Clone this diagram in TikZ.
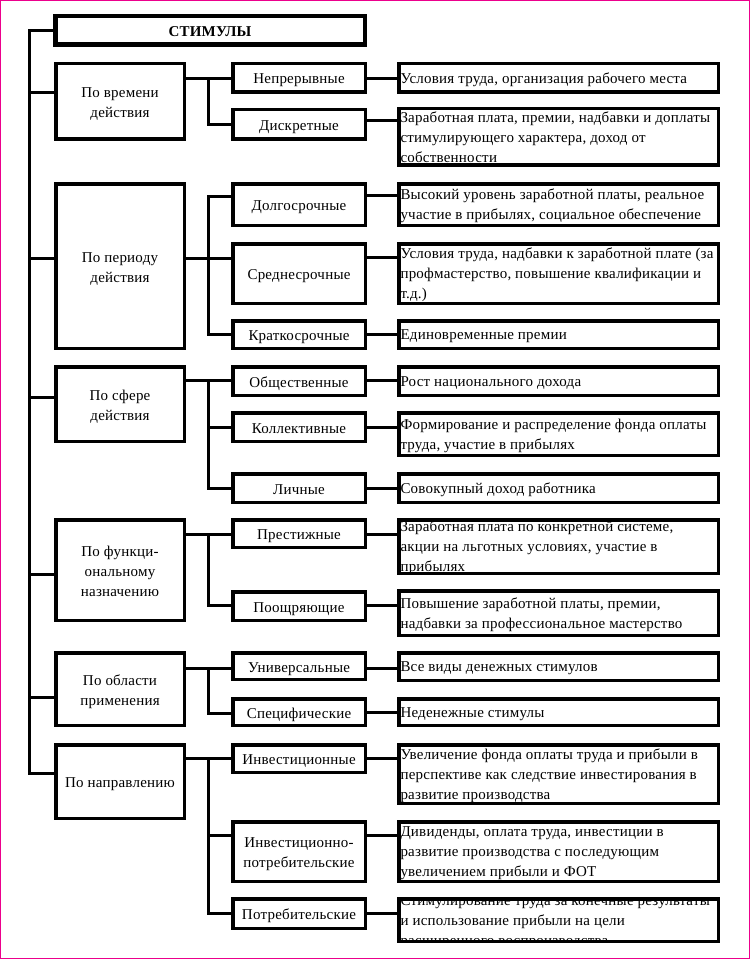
\documentclass[tikz,border=0pt]{standalone}
\usepackage{fontspec}
\setmainfont{Liberation Serif}[LetterSpace=1.5]

\newcommand\desctext[1]{\raisebox{-3pt}[\height][\depth]{\parbox[c][0pt][c]{316pt}{\begin{tabular}{@{}l@{}}#1\end{tabular}}}}
\newcommand\boxtext[1]{\raisebox{-2pt}[\height][\depth]{\begin{tabular}{@{}c@{}}#1\end{tabular}}}

\begin{document}
\begin{tikzpicture}[x=1pt, y=-1pt, font=\fontsize{15}{20}\selectfont,
box/.style={draw, line width=3.5pt, inner sep=0pt},
catbox/.style={box, minimum width=128.5pt},
subbox/.style={box, minimum width=132.5pt},
descbox/.style={box, minimum width=319.5pt},
link/.style={line width=3pt}]
    \useasboundingbox (0,0) rectangle (751,960);
    \draw[magenta, line width=1pt] (0.5,0.5) rectangle (749.5,958.5);

    \node[box, line width=4.5pt, minimum width=309.5pt, minimum height=28.5pt, font=\fontsize{15}{20}\selectfont\bfseries] (top) at (210,30.5) {\boxtext{СТИМУЛЫ}};

    % categories
    \node[catbox, minimum height=75.5pt]  (c1) at (120,101.5) {\boxtext{По времени\\действия}};
    \node[catbox, minimum height=164.5pt] (c2) at (120,266)   {\boxtext{По периоду\\действия}};
    \node[catbox, minimum height=74.5pt]  (c3) at (120,404)   {\boxtext{По сфере\\действия}};
    \node[catbox, minimum height=100.5pt] (c4) at (120,570)   {\boxtext{По функци-\\ональному\\назначению}};
    \node[catbox, minimum height=72.5pt]  (c5) at (120,689)   {\boxtext{По области\\применения}};
    \node[catbox, minimum height=73.5pt]  (c6) at (120,781.5) {\boxtext{По направлению}};

    % kinds
    \node[subbox, minimum height=28.5pt] (s11) at (299,78)    {\boxtext{Непрерывные}};
    \node[subbox, minimum height=29.5pt] (s12) at (299,124.5) {\boxtext{Дискретные}};
    \node[subbox, minimum height=41.5pt] (s21) at (299,204.5) {\boxtext{Долгосрочные}};
    \node[subbox, minimum height=59.5pt] (s22) at (299,273.5) {\boxtext{Среднесрочные}};
    \node[subbox, minimum height=27.5pt] (s23) at (299,334.5) {\boxtext{Краткосрочные}};
    \node[subbox, minimum height=28.5pt] (s31) at (299,381)   {\boxtext{Общественные}};
    \node[subbox, minimum height=28.5pt] (s32) at (299,427)   {\boxtext{Коллективные}};
    \node[subbox, minimum height=28.5pt] (s33) at (299,488)   {\boxtext{Личные}};
    \node[subbox, minimum height=27.5pt] (s41) at (299,533.5) {\boxtext{Престижные}};
    \node[subbox, minimum height=28.5pt] (s42) at (299,606)   {\boxtext{Поощряющие}};
    \node[subbox, minimum height=26.5pt] (s51) at (299,666)   {\boxtext{Универсальные}};
    \node[subbox, minimum height=26.5pt] (s52) at (299,712)   {\boxtext{Специфические}};
    \node[subbox, minimum height=27.5pt] (s61) at (299,758.5) {\boxtext{Инвестиционные}};
    \node[subbox, minimum height=59.5pt] (s62) at (299,851.5) {\boxtext{Инвестиционно-\\потребительские}};
    \node[subbox, minimum height=29.5pt] (s63) at (299,913.5) {\boxtext{Потребительские}};

    % contents
    \node[descbox, minimum height=28.5pt] (d11) at (558.5,78) {\desctext{Условия труда, организация рабочего места}};
    \node[descbox, minimum height=56.5pt] (d12) at (558.5,137) {\desctext{Заработная плата, премии, надбавки и доплаты\\стимулирующего характера, доход от\\собственности}};
    \node[descbox, minimum height=41.5pt] (d21) at (558.5,204.5) {\desctext{Высокий уровень заработной платы, реальное\\участие в прибылях, социальное обеспечение}};
    \node[descbox, minimum height=59.5pt] (d22) at (558.5,273.5) {\desctext{Условия труда, надбавки к заработной плате (за\\профмастерство, повышение квалификации и\\т.д.)}};
    \node[descbox, minimum height=27.5pt] (d23) at (558.5,334.5) {\desctext{Единовременные премии}};
    \node[descbox, minimum height=28.5pt] (d31) at (558.5,381) {\desctext{Рост национального дохода}};
    \node[descbox, minimum height=42.5pt] (d32) at (558.5,434) {\desctext{Формирование и распределение фонда оплаты\\труда, участие в прибылях}};
    \node[descbox, minimum height=28.5pt] (d33) at (558.5,488) {\desctext{Совокупный доход работника}};
    \node[descbox, minimum height=53.5pt] (d41) at (558.5,546.5) {\desctext{Заработная плата по конкретной системе,\\акции на льготных условиях, участие в\\прибылях}};
    \node[descbox, minimum height=44.5pt] (d42) at (558.5,613) {\desctext{Повышение заработной платы, премии,\\надбавки за профессиональное мастерство}};
    \node[descbox, minimum height=27.5pt] (d51) at (558.5,666.5) {\desctext{Все виды денежных стимулов}};
    \node[descbox, minimum height=26.5pt] (d52) at (558.5,712) {\desctext{Неденежные стимулы}};
    \node[descbox, minimum height=58.5pt] (d61) at (558.5,774) {\desctext{Увеличение фонда оплаты труда и прибыли в\\перспективе как следствие инвестирования в\\развитие производства}};
    \node[descbox, minimum height=59.5pt] (d62) at (558.5,851.5) {\desctext{Дивиденды, оплата труда, инвестиции в\\развитие производства с последующим\\увеличением прибыли и ФОТ}};
    \node[descbox, minimum height=42.5pt, path picture={
        \node[draw=none, inner sep=0pt] at (path picture bounding box.center) {\desctext{Стимулирование труда за конечные результаты\\и использование прибыли на цели\\расширенного воспроизводства}};}]
        (d63) at (558.5,920) {};

    % trunk
    \coordinate (trunk) at (29,0);
    \coordinate (jn) at (208,0);
    \draw[link] (top.west) -| (trunk |- 0,773) -- (c6.west |- 0,773);
    \foreach \n/\y in {c1/93, c2/258, c3/397, c4/574, c5/697}
        \draw[link] (trunk |- 0,\y) -- (\n.west |- 0,\y);

    % branches
    \draw[link] (c1.east |- 0,79) -- (s11.west |- 0,79);
    \draw[link] (jn |- 0,79) |- (s12.west |- 0,125);
    \draw[link] (c2.east |- 0,258) -- (s22.west |- 0,258);
    \draw[link] (s21.west |- 0,196) -| (jn |- 0,334) -- (s23.west |- 0,334);
    \draw[link] (c3.east |- 0,380) -- (s31.west |- 0,380);
    \draw[link] (jn |- 0,380) |- (s33.west |- 0,488);
    \draw[link] (jn |- 0,427) -- (s32.west |- 0,427);
    \draw[link] (c4.east |- 0,534) -- (s41.west |- 0,534);
    \draw[link] (jn |- 0,534) |- (s42.west |- 0,605);
    \draw[link] (c5.east |- 0,668) -- (s51.west |- 0,668);
    \draw[link] (jn |- 0,668) |- (s52.west |- 0,713);
    \draw[link] (c6.east |- 0,758) -- (s61.west |- 0,758);
    \draw[link] (jn |- 0,758) |- (s63.west |- 0,913);
    \draw[link] (jn |- 0,835) -- (s62.west |- 0,835);

    \foreach \s/\d/\y in {s11/d11/79, s12/d12/121, s21/d21/195, s22/d22/257, s23/d23/334,
        s31/d31/380, s32/d32/427, s33/d33/488, s41/d41/534, s42/d42/605,
        s51/d51/668, s52/d52/712, s61/d61/758, s62/d62/835, s63/d63/913}
        \draw[link] (\s.east |- 0,\y) -- (\d.west |- 0,\y);
\end{tikzpicture}
\end{document}
